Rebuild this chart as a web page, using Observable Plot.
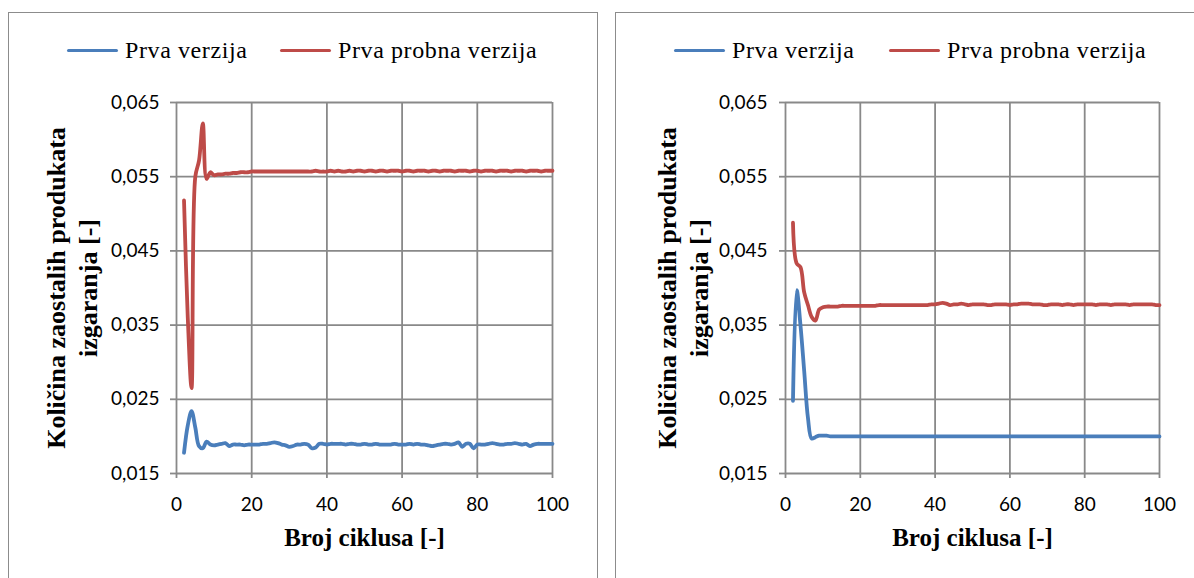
<!DOCTYPE html>
<html>
<head>
<meta charset="utf-8">
<script src="https://cdn.jsdelivr.net/npm/d3@7"></script>
<script src="https://cdn.jsdelivr.net/npm/@observablehq/plot@0.6"></script>
<style>
  html, body { margin: 0; padding: 0; background: #fff; }
  #root { position: relative; width: 1194px; height: 578px; overflow: hidden; background: #fff; }
  .panel { position: absolute; border: 1.5px solid #8c8c8c; box-sizing: border-box; z-index: 3; pointer-events: none; }
  .plotwrap { position: absolute; top: 0; z-index: 1; }
  .leg { position: absolute; display: flex; align-items: center; font-family: "Liberation Serif", "Times New Roman", serif; font-size: 24px; letter-spacing: 0.6px; color: #000; white-space: nowrap; z-index: 2; }
  .sw { display: inline-block; width: 51px; height: 3.5px; border-radius: 2px; margin-right: 7px; margin-top: 0px; }
</style>
</head>
<body>
<div id="root"></div>
<script>
// ---- data ----
const cycles = [2,3,4,5,6,7,8,9,10,11,12,13,14,15,16,17,18,19,20,21,22,23,24,25,26,27,28,29,30,31,32,33,34,35,36,37,38,39,40,41,42,43,44,45,46,47,48,49,50,51,52,53,54,55,56,57,58,59,60,61,62,63,64,65,66,67,68,69,70,71,72,73,74,75,76,77,78,79,80,81,82,83,84,85,86,87,88,89,90,91,92,93,94,95,96,97,98,99,100];

// Left chart
const leftPrva = [0.0178,0.0215,0.0234,0.0212,0.0187,0.0184,0.0193,0.0189,0.0188,0.0189,0.0190,0.0191,0.0187,0.0189,0.0189,0.0189,0.0188,0.0189,0.0189,0.0189,0.0189,0.0190,0.0190,0.0191,0.0192,0.0191,0.0189,0.0188,0.0186,0.0187,0.0189,0.0189,0.0190,0.0189,0.0184,0.0185,0.0190,0.0190,0.0189,0.0190,0.0190,0.0190,0.0190,0.0189,0.0190,0.0190,0.0189,0.0189,0.0190,0.0189,0.0189,0.0190,0.0189,0.0189,0.0189,0.0189,0.0190,0.0189,0.0189,0.0189,0.0190,0.0189,0.0190,0.0189,0.0189,0.0188,0.0187,0.0188,0.0189,0.0190,0.0190,0.0189,0.0190,0.0192,0.0186,0.0190,0.0190,0.0184,0.0189,0.0189,0.0189,0.0190,0.0191,0.0190,0.0189,0.0189,0.0190,0.0190,0.0191,0.0190,0.0189,0.0190,0.0187,0.0189,0.0190,0.0190,0.0190,0.0190,0.0190];
const leftProbna = [0.0518,0.0360,0.0265,0.0550,0.0572,0.0622,0.0547,0.0556,0.0552,0.0553,0.0553,0.0554,0.0554,0.0555,0.0555,0.0556,0.0556,0.0556,0.0557,0.0557,0.0557,0.0557,0.0557,0.0557,0.0557,0.0557,0.0557,0.0557,0.0557,0.0557,0.0557,0.0557,0.0557,0.0557,0.0557,0.0558,0.0557,0.0557,0.0557,0.0558,0.0557,0.0558,0.0557,0.0557,0.0558,0.0557,0.0558,0.0558,0.0557,0.0558,0.0558,0.0557,0.0558,0.0558,0.0557,0.0558,0.0558,0.0558,0.0557,0.0558,0.0558,0.0557,0.0558,0.0558,0.0558,0.0557,0.0558,0.0558,0.0557,0.0558,0.0558,0.0558,0.0557,0.0558,0.0558,0.0558,0.0557,0.0558,0.0558,0.0557,0.0558,0.0558,0.0558,0.0557,0.0558,0.0558,0.0558,0.0557,0.0558,0.0558,0.0558,0.0557,0.0558,0.0558,0.0558,0.0557,0.0558,0.0558,0.0558];

// Right chart
const rightPrva = [0.0248,0.0397,0.0350,0.0288,0.0225,0.0197,0.0199,0.0201,0.0201,0.0201,0.0200,0.0200,0.0200,0.0200,0.0200,0.0200,0.0200,0.0200,0.0200,0.0200,0.0200,0.0200,0.0200,0.0200,0.0200,0.0200,0.0200,0.0200,0.0200,0.0200,0.0200,0.0200,0.0200,0.0200,0.0200,0.0200,0.0200,0.0200,0.0200,0.0200,0.0200,0.0200,0.0200,0.0200,0.0200,0.0200,0.0200,0.0200,0.0200,0.0200,0.0200,0.0200,0.0200,0.0200,0.0200,0.0200,0.0200,0.0200,0.0200,0.0200,0.0200,0.0200,0.0200,0.0200,0.0200,0.0200,0.0200,0.0200,0.0200,0.0200,0.0200,0.0200,0.0200,0.0200,0.0200,0.0200,0.0200,0.0200,0.0200,0.0200,0.0200,0.0200,0.0200,0.0200,0.0200,0.0200,0.0200,0.0200,0.0200,0.0200,0.0200,0.0200,0.0200,0.0200,0.0200,0.0200,0.0200,0.0200,0.0200];
const rightProbna = [0.0488,0.0433,0.0428,0.0394,0.0377,0.0361,0.0356,0.0371,0.0374,0.0375,0.0375,0.0375,0.0375,0.0376,0.0376,0.0376,0.0376,0.0376,0.0376,0.0376,0.0376,0.0376,0.0376,0.0377,0.0377,0.0377,0.0377,0.0377,0.0377,0.0377,0.0377,0.0377,0.0377,0.0377,0.0377,0.0377,0.0377,0.0378,0.0378,0.0379,0.0380,0.0379,0.0377,0.0378,0.0378,0.0379,0.0378,0.0377,0.0378,0.0378,0.0378,0.0378,0.0377,0.0377,0.0378,0.0378,0.0378,0.0378,0.0377,0.0378,0.0378,0.0379,0.0379,0.0379,0.0378,0.0378,0.0378,0.0377,0.0377,0.0378,0.0378,0.0378,0.0377,0.0378,0.0378,0.0377,0.0378,0.0378,0.0378,0.0378,0.0378,0.0377,0.0378,0.0378,0.0378,0.0377,0.0378,0.0378,0.0378,0.0378,0.0377,0.0378,0.0378,0.0378,0.0378,0.0378,0.0378,0.0377,0.0377];

const seriesNames = ["Prva verzija", "Prva probna verzija"];
const seriesColors = ["#4A7EBB", "#BE4B48"];
const xTicks = [0, 20, 40, 60, 80, 100];
const yTicks = [0.015, 0.025, 0.035, 0.045, 0.055, 0.065];
const xTitle = "Broj ciklusa [-]";
const yTitle = "Količina zaostalih produkata\nizgaranja [-]";

// ---- drawing ----
const GRID = "#898989";
const SERIF = "'Liberation Serif', 'Times New Roman', serif";
const fmtY = d => d.toFixed(3).replace(".", ",");

function makeChart(prva, probna, opts) {
  const rows = [];
  cycles.forEach((c, i) => {
    rows.push({x: c, y: prva[i], s: seriesNames[0]});
  });
  cycles.forEach((c, i) => {
    rows.push({x: c, y: probna[i], s: seriesNames[1]});
  });
  return Plot.plot({
    width: opts.width,
    height: 578,
    marginLeft: opts.ml,
    marginRight: opts.mr,
    marginTop: 102,
    marginBottom: 105,
    style: {background: "transparent", fontFamily: "Lato, 'Open Sans', sans-serif", fontSize: "19px", color: "#000"},
    x: {domain: [0, 100]},
    y: {domain: [0.015, 0.065]},
    color: {domain: seriesNames, range: seriesColors},
    marks: [
      Plot.gridX(xTicks, {stroke: GRID, strokeOpacity: 1, strokeWidth: 1.8}),
      Plot.gridY(yTicks, {stroke: GRID, strokeOpacity: 1, strokeWidth: 1.8}),
      Plot.axisX({ticks: xTicks, tickSize: 5, tickPadding: 19, stroke: GRID, strokeWidth: 1.8, fill: "#000", label: null, fontSize: 19}),
      Plot.axisY({ticks: yTicks, tickFormat: fmtY, tickSize: 6, tickPadding: opts.typ, stroke: GRID, strokeWidth: 1.8, fill: "#000", label: null, fontSize: 19}),
      Plot.line(rows, {x: "x", y: "y", z: "s", stroke: "s", strokeWidth: 3.8, curve: "catmull-rom"}),
      Plot.text([xTitle], {frameAnchor: "bottom", dy: 72, fontFamily: SERIF, fontWeight: "bold", fontSize: 25, fill: "#000"}),
      Plot.text([yTitle], {frameAnchor: "left", textAnchor: "middle", rotate: -90, dx: opts.ydx, lineHeight: 1.23, fontFamily: SERIF, fontWeight: "bold", fontSize: 26, fill: "#000"})
    ]
  });
}

const root = document.getElementById("root");

function addPanel(left, top, w, h) {
  const d = document.createElement("div");
  d.className = "panel";
  d.style.left = left + "px"; d.style.top = top + "px";
  d.style.width = w + "px"; d.style.height = h + "px";
  root.appendChild(d);
}
function addChart(chart, left) {
  const w = document.createElement("div");
  w.className = "plotwrap";
  w.style.left = left + "px";
  w.appendChild(chart);
  root.appendChild(w);
}
function addLegendItem(x, y, idx) {
  const d = document.createElement("div");
  d.className = "leg";
  d.style.left = x + "px"; d.style.top = y + "px";
  const sw = document.createElement("span");
  sw.className = "sw"; sw.style.background = seriesColors[idx];
  const t = document.createElement("span");
  t.textContent = seriesNames[idx];
  d.appendChild(sw); d.appendChild(t);
  root.appendChild(d);
}

addPanel(8, 12, 590, 620);
addPanel(615, 12, 640, 620);

addChart(makeChart(leftPrva, leftProbna, {width: 598, ml: 176, mr: 46, typ: 11, ydx: -106}), 0);
addChart(makeChart(rightPrva, rightProbna, {width: 594, ml: 185, mr: 35, typ: 12, ydx: -104}), 600);

addLegendItem(67, 37, 0);
addLegendItem(280, 37, 1);
addLegendItem(674, 37, 0);
addLegendItem(889, 37, 1);
</script>
</body>
</html>
